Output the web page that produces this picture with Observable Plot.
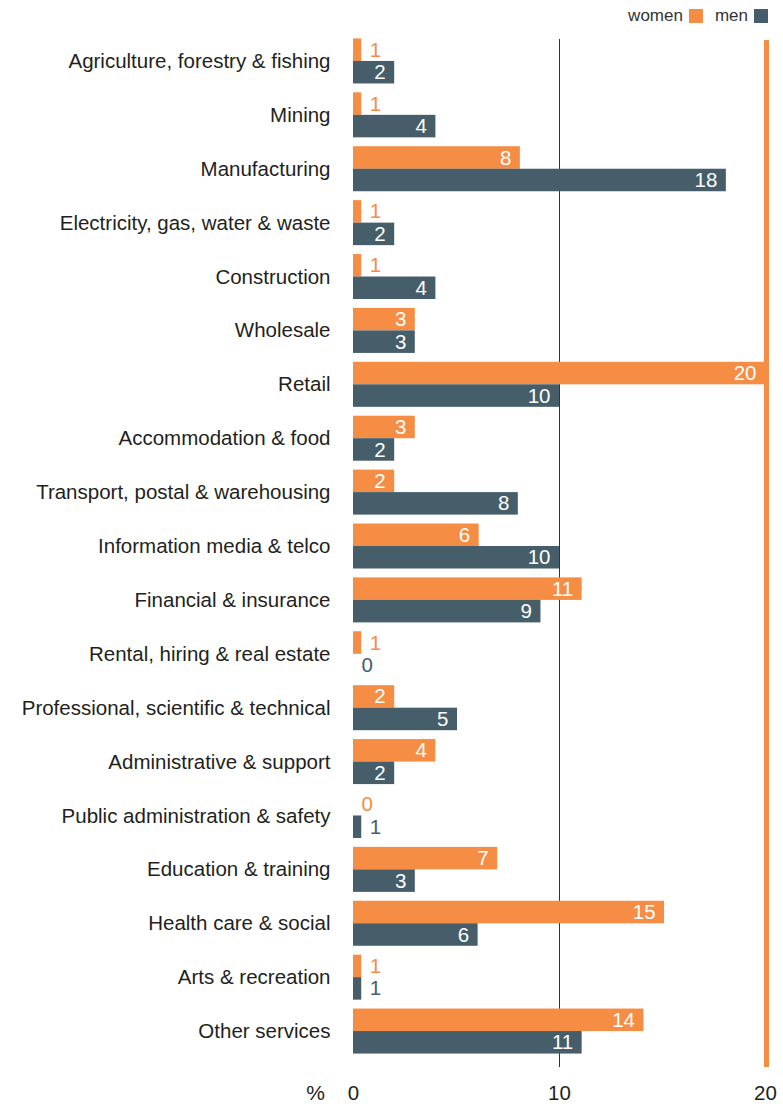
<!DOCTYPE html>
<html>
<head>
<meta charset="utf-8">
<script src="https://cdn.jsdelivr.net/npm/d3@7"></script>
<script src="https://cdn.jsdelivr.net/npm/@observablehq/plot@0.6"></script>
<style>
  html, body { margin: 0; padding: 0; background: #fff; }
  #wrap { position: relative; width: 783px; height: 1106px; font-family: "Liberation Sans", Arial, sans-serif; }
  #legend { position: absolute; top: 6px; right: 15px; display: flex; align-items: center; font-size: 17px; color: #333; }
  #legend .sw { display: inline-block; width: 14px; height: 14px; margin-left: 6px; }
  #legend .gap { width: 12px; }
</style>
</head>
<body>
<div id="wrap">
  <div id="legend"></div>
  <div id="chart"></div>
</div>
<script>
const categories = [
  "Agriculture, forestry & fishing",
  "Mining",
  "Manufacturing",
  "Electricity, gas, water & waste",
  "Construction",
  "Wholesale",
  "Retail",
  "Accommodation & food",
  "Transport, postal & warehousing",
  "Information media & telco",
  "Financial & insurance",
  "Rental, hiring & real estate",
  "Professional, scientific & technical",
  "Administrative & support",
  "Public administration & safety",
  "Education & training",
  "Health care & social",
  "Arts & recreation",
  "Other services"
];
const womenValues = [0.4, 0.4, 8.1, 0.4, 0.4, 3, 20, 3, 2, 6.1, 11.1, 0.4, 2, 4, 0, 7, 15.1, 0.4, 14.1];
const womenLabels = [1, 1, 8, 1, 1, 3, 20, 3, 2, 6, 11, 1, 2, 4, 0, 7, 15, 1, 14];
const menValues = [2, 4, 18.1, 2, 4, 3, 10, 2, 8, 10, 9.1, 0, 5.05, 2, 0.4, 3, 6.05, 0.4, 11.1];
const menLabels = [2, 4, 18, 2, 4, 3, 10, 2, 8, 10, 9, 0, 5, 2, 1, 3, 6, 1, 11];
const seriesNames = ["women", "men"];
const xTicks = [0, 10, 20];
const unitLabel = "%";

const colors = { women: "#f68d45", men: "#455e6a" };

const women = categories.map((c, i) => ({ category: c, value: womenValues[i], label: String(womenLabels[i]) }));
const men = categories.map((c, i) => ({ category: c, value: menValues[i], label: String(menLabels[i]) }));
const inside = d => d.value >= 1.5;
const outside = d => d.value < 1.5;

const half = 11.25;
const bandInset = 4.44;

const plot = Plot.plot({
  width: 783,
  height: 1106,
  marginLeft: 353,
  marginRight: 18,
  marginTop: 34,
  marginBottom: 48,
  style: { fontFamily: "\"Liberation Sans\", Arial, sans-serif", fontSize: "20.5px", color: "#231f20", background: "white" },
  x: { domain: [0, 20], axis: null },
  y: { domain: categories, padding: 0, round: false, axis: null },
  marks: [
    Plot.ruleX([10], { stroke: "#333", strokeWidth: 1, insetTop: 5, insetBottom: -9 }),
    Plot.barX(women, { x: "value", y: "category", fill: colors.women, insetTop: bandInset, insetBottom: 26.94 }),
    Plot.barX(men, { x: "value", y: "category", fill: colors.men, insetTop: 26.94, insetBottom: bandInset }),
    Plot.ruleX([20], { stroke: colors.women, strokeWidth: 5, dx: 1, insetTop: 6, insetBottom: -9 }),
    Plot.text(women.filter(inside), { x: "value", y: "category", text: "label", dy: -half, dx: -9, textAnchor: "end", fill: "white", fontSize: 20.5 }),
    Plot.text(women.filter(outside), { x: "value", y: "category", text: "label", dy: -half, dx: 8, textAnchor: "start", fill: colors.women, fontSize: 20.5 }),
    Plot.text(men.filter(inside), { x: "value", y: "category", text: "label", dy: half, dx: -9, textAnchor: "end", fill: "white", fontSize: 20.5 }),
    Plot.text(men.filter(outside), { x: "value", y: "category", text: "label", dy: half, dx: 8, textAnchor: "start", fill: colors.men, fontSize: 20.5 }),
    Plot.axisY({ tickSize: 0, tickPadding: 23, fontSize: 20.5, label: null }),
    Plot.axisX({ ticks: xTicks, tickSize: 0, tickPadding: 27, fontSize: 20.5, label: null }),
    Plot.text([{ x: 0, t: unitLabel }], { x: "x", text: "t", frameAnchor: "bottom", lineAnchor: "middle", dx: -38, dy: 34.5, fontSize: 21, fill: "#231f20" })
  ]
});
document.getElementById("chart").appendChild(plot);

const legend = document.getElementById("legend");
seriesNames.forEach((s, i) => {
  if (i > 0) { const g = document.createElement("span"); g.className = "gap"; legend.appendChild(g); }
  const t = document.createElement("span"); t.textContent = s; legend.appendChild(t);
  const sw = document.createElement("span"); sw.className = "sw"; sw.style.background = colors[s]; legend.appendChild(sw);
});
</script>
</body>
</html>
